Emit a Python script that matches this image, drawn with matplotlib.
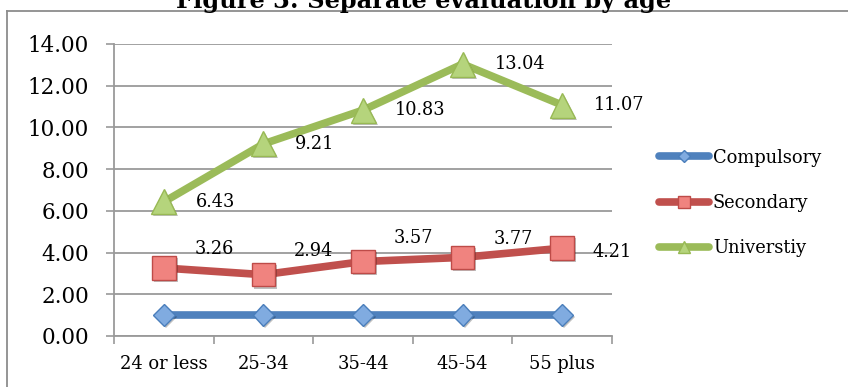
import matplotlib
matplotlib.use("Agg")
import matplotlib.pyplot as plt
import matplotlib.patheffects as pe
from matplotlib.lines import Line2D

# age groups and mean scores per education level
ages = ["24 or less", "25-34", "35-44", "45-54", "55 plus"]
compulsory = [1.0, 1.0, 1.0, 1.0, 1.0]
secondary = [3.26, 2.94, 3.57, 3.77, 4.21]
university = [6.43, 9.21, 10.83, 13.04, 11.07]
yticks = [0, 2, 4, 6, 8, 10, 12, 14]

plt.rcParams['font.family'] = ['DejaVu Serif']

fig = plt.figure(figsize=(8.48, 3.87), dpi=100)
ax = fig.add_axes([114 / 848, 1 - 336 / 387, 498 / 848, 292 / 387])

grey = "#9a9a9a"
x = list(range(len(ages)))
shadow = [pe.SimplePatchShadow(offset=(1.5, -1.5), shadow_rgbFace="k", alpha=0.25),
          pe.Normal()]

series = [
    (compulsory, "Compulsory", "#4f81bd", "D", 11, "#80abe0", "#4a7ebb"),
    (secondary, "Secondary", "#c0504d", "s", 17, "#f0837f", "#be4b48"),
    (university, "Universtiy", "#9bbb59", "^", 18, "#b5d47c", "#98b954"),
]
for vals, name, col, mk, ms, face, edge in series:
    ax.plot(x, vals, color=col, lw=5.5, solid_capstyle="round", zorder=3)
    ax.plot(x, vals, ls="none", marker=mk, ms=ms, mfc=face, mec=edge, mew=1,
            path_effects=shadow, zorder=4)
    # legend proxy
    ax.plot([], [], color=col, lw=5.5, solid_capstyle="round", marker=mk,
            mfc=face, mec=edge, mew=1, label=name)

# value labels next to the points
for i, v in enumerate(university):
    ax.annotate(f"{v:.2f}", (i, v), xytext=(23, 0), textcoords="offset points",
                ha="left", va="center", fontsize=12.8)
sec_dy = [14, 17, 17, 13, -3]
for i, v in enumerate(secondary):
    ax.annotate(f"{v:.2f}", (i, v), xytext=(22, sec_dy[i]), textcoords="offset points",
                ha="left", va="center", fontsize=12.8)

ax.set_xlim(-0.5, len(ages) - 0.5)
ax.set_ylim(0, 14)
ax.set_yticks(yticks)
ax.set_yticklabels([f"{t:.2f}" for t in yticks], fontsize=15.5)
ax.set_xticks(x)
ax.set_xticklabels(ages, fontsize=12.9)
ax.set_xticks([i - 0.5 for i in range(len(ages) + 1)], minor=True)
ax.tick_params(axis="x", which="major", length=0, pad=14)
ax.tick_params(axis="x", which="minor", length=6, color=grey, width=1.2)
ax.tick_params(axis="y", length=6, color=grey, width=1.2, pad=12)

ax.grid(axis="y", color=grey, lw=1.3)
ax.set_axisbelow(True)
for s in ["top", "right"]:
    ax.spines[s].set_visible(False)
for s in ["left", "bottom"]:
    ax.spines[s].set_color(grey)
    ax.spines[s].set_linewidth(1.3)

leg = ax.legend(loc="center left", bbox_to_anchor=(659 / 848, 1 - 203 / 387),
                bbox_transform=fig.transFigure, frameon=False, fontsize=12.9,
                handlelength=2.8, handletextpad=0.2, labelspacing=1.53,
                borderaxespad=0, borderpad=0)
for h, ms in zip(leg.legend_handles, [6, 9, 8]):
    h.set_markersize(ms)

# outer chart frame: top and left edges, the rest runs off the page
top = 1 - 11 / 387
left = 7 / 848
fig.add_artist(Line2D([left, 1.0], [top, top], transform=fig.transFigure,
                      color="#8c8c8c", lw=1.3, zorder=0))
fig.add_artist(Line2D([left, left], [top, 0.0], transform=fig.transFigure,
                      color="#8c8c8c", lw=1.3, zorder=0))

fig.text(0.5, 1 - 8 / 387, "Figure 3: Separate evaluation by age",
         ha="center", va="baseline", fontsize=17.3, fontweight="bold")

fig.savefig("out.png", dpi=100)
